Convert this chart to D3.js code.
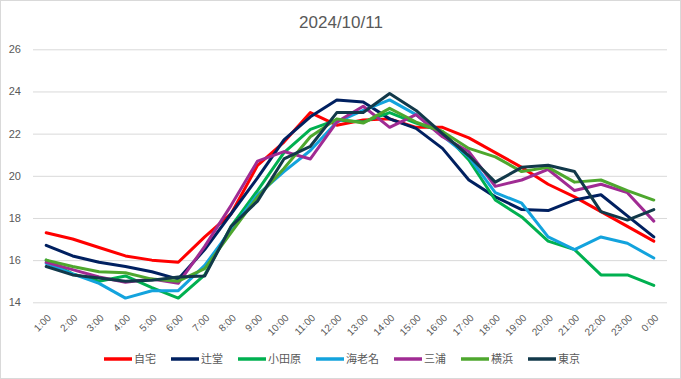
<!DOCTYPE html>
<html>
<head>
<meta charset="utf-8">
<script src="https://cdn.jsdelivr.net/npm/d3@7"></script>
<style>
  body { margin: 0; background: #fff; }
  text { font-family: "Liberation Sans", "Noto Sans CJK JP", sans-serif; fill: #595959; }
  .legend text { font-family: "Noto Sans CJK JP", sans-serif; }
</style>
</head>
<body>
<svg id="chart" width="681" height="379"></svg>
<script>
// hours on the x axis
var hours = ["1:00","2:00","3:00","4:00","5:00","6:00","7:00","8:00","9:00","10:00","11:00","12:00",
             "13:00","14:00","15:00","16:00","17:00","18:00","19:00","20:00","21:00","22:00","23:00","0:00"];
var yTicks = [14, 16, 18, 20, 22, 24, 26];

// temperatures per station
var jitaku   = [17.3,17.0,16.6,16.2,16.0,15.9,17.1,18.2,20.5,21.6,23.0,22.4,22.65,22.7,22.3,22.3,21.8,21.1,20.4,19.6,19.0,18.3,17.6,16.9];
var tsujido  = [16.7,16.2,15.9,15.7,15.45,15.1,16.5,18.2,19.9,21.7,22.8,23.6,23.5,22.7,22.25,21.3,19.8,19.0,18.4,18.35,18.85,19.1,18.1,17.1];
var odawara  = [16.0,15.35,15.0,15.25,14.7,14.2,15.3,17.6,19.3,21.1,22.2,22.65,22.55,23.0,22.5,22.1,20.75,18.85,18.05,16.9,16.5,15.3,15.3,14.8];
var ebina    = [15.85,15.35,14.9,14.2,14.55,14.55,15.75,17.45,19.1,20.2,21.2,22.55,23.1,23.6,22.9,21.9,20.9,19.2,18.7,17.1,16.5,17.1,16.8,16.1];
var miura    = [15.9,15.55,15.2,14.95,15.1,14.9,16.65,18.6,20.7,21.15,20.8,22.55,23.3,22.3,22.9,21.85,21.15,19.5,19.8,20.3,19.3,19.6,19.2,17.85];
var yokohama = [16.0,15.7,15.45,15.4,15.1,15.0,15.6,17.3,19.0,20.35,21.85,22.7,22.5,23.2,22.55,22.1,21.3,20.9,20.2,20.4,19.7,19.8,19.3,18.85];
var tokyo    = [15.7,15.3,15.15,15.0,15.05,15.2,15.25,17.6,18.8,20.8,21.4,23.0,23.0,23.9,23.1,22.0,20.95,19.7,20.4,20.5,20.2,18.3,17.9,18.4];

var names  = ["自宅","辻堂","小田原","海老名","三浦","横浜","東京"];
var colors = ["#ff0000","#002060","#00b050","#13a3dd","#a02b93","#4ea72e","#12394a"];
var series = [jitaku, tsujido, odawara, ebina, miura, yokohama, tokyo];

var svg = d3.select("#chart");
var W = 681, H = 379;

// outer frame
svg.append("rect")
  .attr("x", 0.5).attr("y", 0.5)
  .attr("width", W - 1).attr("height", H - 1)
  .attr("fill", "#fff").attr("stroke", "#d9d9d9");

var x = d3.scaleBand().domain(hours).range([33, 667]);
var y = d3.scaleLinear().domain([14, 26]).range([302.3, 49.3]);
var cx = function(i) { return x(hours[i]) + x.bandwidth() / 2; };

// title
svg.append("text")
  .attr("x", 341).attr("y", 28)
  .attr("text-anchor", "middle")
  .attr("font-size", 17)
  .text("2024/10/11");

// gridlines + y labels
var yAxis = d3.axisLeft(y).tickValues(yTicks).tickSize(-(667 - 33)).tickPadding(12);
var gy = svg.append("g").attr("transform", "translate(33,0)").call(yAxis);
gy.select(".domain").remove();
gy.selectAll(".tick line").attr("stroke", "#d9d9d9");
gy.selectAll(".tick text").attr("font-size", 11).attr("fill", "#595959")
  .style("font-family", "Liberation Sans, sans-serif");

// x labels, rotated
var gx = svg.append("g");
gx.selectAll("text")
  .data(hours)
  .enter()
  .append("text")
  .attr("transform", function(d, i) {
    return "translate(" + (cx(i) + 3) + ",316) rotate(-45)";
  })
  .attr("text-anchor", "end")
  .attr("dy", "0.35em")
  .attr("font-size", 10)
  .text(function(d) { return d; });

// lines
var line = d3.line()
  .x(function(d, i) { return cx(i); })
  .y(function(d) { return y(d); });

svg.append("g").selectAll("path")
  .data(series)
  .enter()
  .append("path")
  .attr("d", line)
  .attr("fill", "none")
  .attr("stroke", function(d, i) { return colors[i]; })
  .attr("stroke-width", 3)
  .attr("stroke-linejoin", "round")
  .attr("stroke-linecap", "round");

// legend, centered under the plot
var legend = svg.append("g").attr("class", "legend");
var items = legend.selectAll("g")
  .data(names)
  .enter()
  .append("g");
items.append("line")
  .attr("x1", 0).attr("x2", 28)
  .attr("y1", 0).attr("y2", 0)
  .attr("stroke", function(d, i) { return colors[i]; })
  .attr("stroke-width", 3.5);
items.append("text")
  .attr("x", 30).attr("y", 4)
  .attr("font-size", 11)
  .text(function(d) { return d; });

var pos = 0, offsets = [];
items.each(function(d, i) {
  offsets.push(pos);
  pos += 30 + this.querySelector("text").getComputedTextLength() + 15;
});
var total = pos - 15;
var start = 342 - total / 2;
items.attr("transform", function(d, i) {
  return "translate(" + (start + offsets[i]) + ",359)";
});
</script>
</body>
</html>
